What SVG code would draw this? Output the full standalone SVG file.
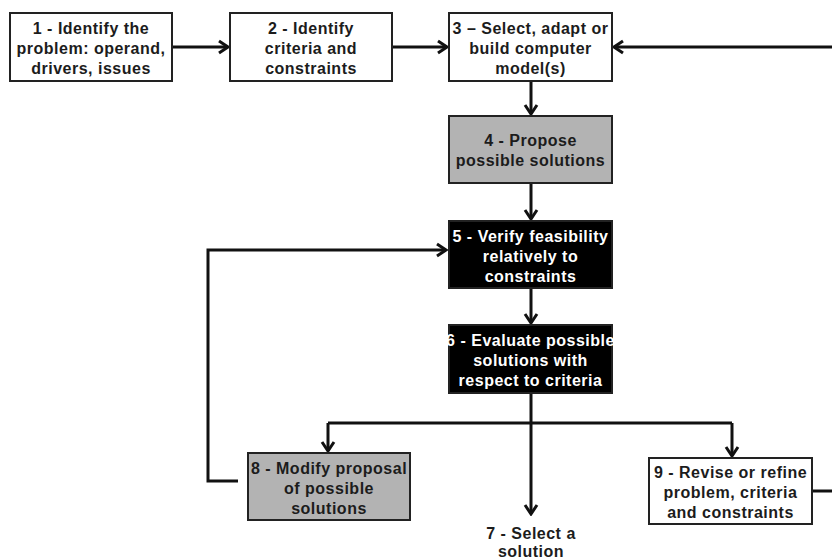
<svg xmlns="http://www.w3.org/2000/svg" width="832" height="559" viewBox="0 0 832 559">
<defs>
<marker id="ah" viewBox="-12 -8 14 16" markerWidth="14" markerHeight="16" refX="0" refY="0" markerUnits="userSpaceOnUse" orient="auto">
<path d="M-9,-6 L0,0 L-9,6" fill="none" stroke="#111" stroke-width="3"/>
</marker>
</defs>
<style>
.box{stroke:#222;stroke-width:2}
.w{fill:#fff}
.g{fill:#b3b3b3}
.k{fill:#000}
text{font-family:"Liberation Sans",Arial,sans-serif;font-weight:bold;font-size:16px;letter-spacing:0.5px;text-anchor:middle;fill:#1c1c1c}
.wt{fill:#fff}
.c{fill:none;stroke:#111;stroke-width:3}
</style>
<rect width="832" height="559" fill="#fff"/>
<g id="connectors">
<path class="c" d="M172,47 H228" marker-end="url(#ah)"/>
<path class="c" d="M392,47 H447" marker-end="url(#ah)"/>
<path class="c" d="M832,47 H614" marker-end="url(#ah)"/>
<path class="c" d="M531,81 V114" marker-end="url(#ah)"/>
<path class="c" d="M531,183 V219" marker-end="url(#ah)"/>
<path class="c" d="M531,288 V323" marker-end="url(#ah)"/>
<path class="c" d="M531,393 V514" marker-end="url(#ah)"/>
<path class="c" d="M328,423 H732"/>
<path class="c" d="M328,423 V451" marker-end="url(#ah)"/>
<path class="c" d="M732,423 V456" marker-end="url(#ah)"/>
<path class="c" d="M238,481 H208 V250 H446" marker-end="url(#ah)"/>
<path class="c" d="M813,491 H832"/>
</g>
<g id="n1">
<rect class="box w" x="10" y="13" width="162" height="68"/>
<text x="91" y="34">1 - Identify the</text>
<text x="91" y="54">problem: operand,</text>
<text x="91" y="74">drivers, issues</text>
</g>
<g id="n2">
<rect class="box w" x="230" y="13" width="162" height="68"/>
<text x="311" y="34">2 - Identify</text>
<text x="311" y="54">criteria and</text>
<text x="311" y="74">constraints</text>
</g>
<g id="n3">
<rect class="box w" x="449" y="13" width="163" height="68"/>
<text x="530.5" y="34">3 – Select, adapt or</text>
<text x="530.5" y="54">build computer</text>
<text x="530.5" y="74">model(s)</text>
</g>
<g id="n4">
<rect class="box g" x="449" y="116" width="163" height="67"/>
<text x="530.5" y="146">4 - Propose</text>
<text x="530.5" y="166">possible solutions</text>
</g>
<g id="n5">
<rect class="box k" x="449" y="221" width="163" height="67"/>
<text class="wt" x="530.5" y="242">5 - Verify feasibility</text>
<text class="wt" x="530.5" y="262">relatively to</text>
<text class="wt" x="530.5" y="282">constraints</text>
</g>
<g id="n6">
<rect class="box k" x="449" y="325" width="163" height="68"/>
<text class="wt" x="530.5" y="346">6 - Evaluate possible</text>
<text class="wt" x="530.5" y="366">solutions with</text>
<text class="wt" x="530.5" y="386">respect to criteria</text>
</g>
<g id="n7">
<text x="531" y="539">7 - Select a</text>
<text x="531" y="557">solution</text>
</g>
<g id="n8">
<rect class="box g" x="248" y="453" width="162" height="67"/>
<text x="329" y="474">8 - Modify proposal</text>
<text x="329" y="494">of possible</text>
<text x="329" y="514">solutions</text>
</g>
<g id="n9">
<rect class="box w" x="649" y="458" width="163" height="66"/>
<text x="730.5" y="478">9 - Revise or refine</text>
<text x="730.5" y="498">problem, criteria</text>
<text x="730.5" y="518">and constraints</text>
</g>
</svg>
